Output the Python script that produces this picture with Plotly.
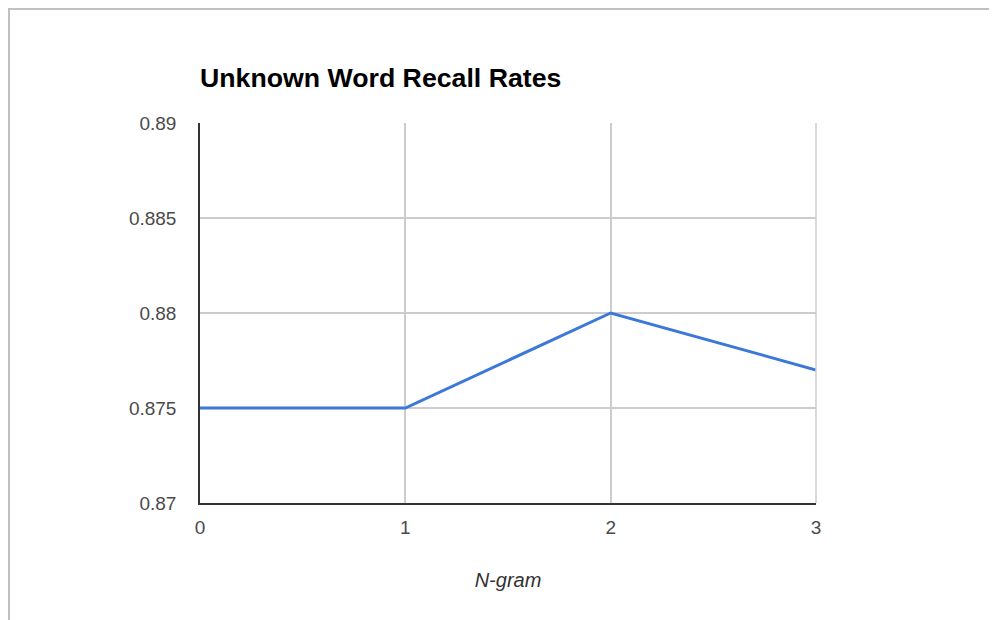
import plotly.graph_objects as go

ngram = [0, 1, 2, 3]
recall = [0.875, 0.875, 0.88, 0.877]
y_ticks = [0.87, 0.875, 0.88, 0.885, 0.89]
y_tick_labels = ["0.87", "0.875", "0.88", "0.885", "0.89"]
x_ticks = [0, 1, 2, 3]

# The page body adds an 8px offset; figure coordinates are compensated.
W, H = 997, 620
L, R, T, B = 192, 189, 115, 125
pw, ph = W - L - R, H - T - B

fig = go.Figure()
fig.add_trace(go.Scatter(x=ngram, y=recall, mode="lines",
                         line=dict(color="#3c78d8", width=3), hoverinfo="skip"))

fig.update_layout(
    width=W, height=H,
    margin=dict(l=L, r=R, t=T, b=B),
    paper_bgcolor="white", plot_bgcolor="white",
    showlegend=False,
    font=dict(family="Liberation Sans, Arial, sans-serif", color="#4a4a4a", size=19),
    title=dict(text="<b>Unknown Word Recall Rates</b>", x=L / W, xanchor="left",
               y=1 - 70 / H, yanchor="middle",
               font=dict(size=26.7, color="#000", family="Liberation Sans, Arial, sans-serif")),
    xaxis=dict(range=[0, 3], tickvals=x_ticks, ticktext=[str(v) for v in x_ticks],
               showgrid=True, gridcolor="#cccccc", gridwidth=1.5,
               zeroline=False, showline=True, linecolor="#333", linewidth=1.5,
               ticks="", ticklabelstandoff=6,
               title=dict(text="<i>N-gram</i>", standoff=36,
                          font=dict(size=20, color="#333"))),
    yaxis=dict(range=[0.87, 0.89], tickvals=y_ticks, ticktext=y_tick_labels,
               showgrid=True, gridcolor="#cccccc", gridwidth=1.5,
               zeroline=False, showline=True, linecolor="#333", linewidth=1.5,
               ticks="", ticklabelstandoff=18),
    shapes=[
        dict(type="line", xref="x domain", yref="y domain",
             x0=1, x1=1, y0=0, y1=1, line=dict(color="#cccccc", width=1.5)),
        dict(type="rect", xref="paper", yref="paper",
             x0=(1 - L) / pw, x1=(W + 20 - L) / pw,
             y0=(T + ph - (H + 20)) / ph, y1=(T + ph - 1) / ph,
             line=dict(color="#c0c0c0", width=2), fillcolor="rgba(0,0,0,0)",
             layer="below"),
    ],
)

fig.write_html("out.html")
